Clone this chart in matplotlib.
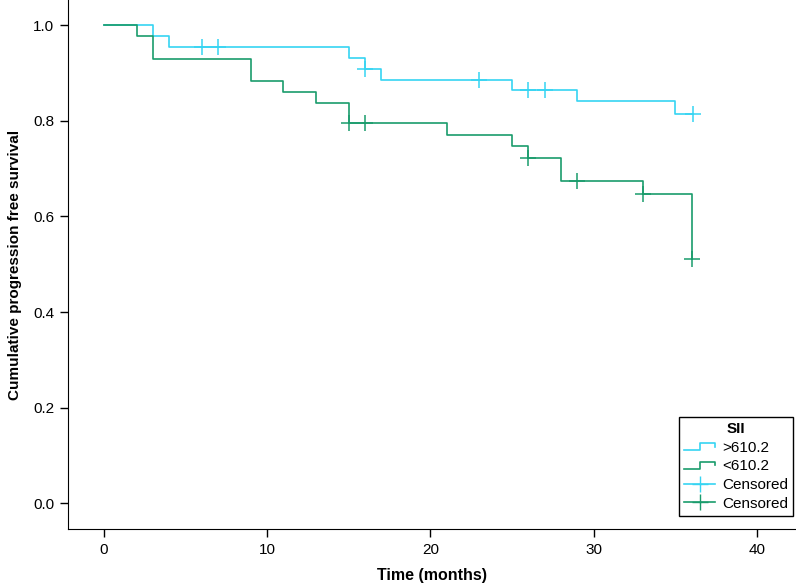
import numpy as np
import matplotlib.pyplot as plt
from matplotlib.lines import Line2D
from matplotlib.legend_handler import HandlerBase

plt.rcParams['font.family'] = ['Liberation Sans', 'DejaVu Sans']

# Kaplan-Meier steps, SII > 610.2
hi_t = [0, 3, 4, 15, 16, 17, 25, 29, 35, 36.1]
hi_s = [1.0, 0.977, 0.955, 0.932, 0.909, 0.886, 0.864, 0.841, 0.815, 0.815]
hi_cens_t = [6, 7, 16, 23, 26, 27, 36.1]
hi_cens_s = [0.955, 0.955, 0.909, 0.886, 0.864, 0.864, 0.815]

# SII < 610.2
lo_t = [0, 2, 3, 9, 11, 13, 15, 21, 25, 26, 28, 33, 36]
lo_s = [1.0, 0.977, 0.930, 0.884, 0.861, 0.838, 0.795, 0.771, 0.747, 0.723, 0.674, 0.647, 0.512]
lo_cens_t = [15, 16, 26, 29, 33, 36]
lo_cens_s = [0.795, 0.795, 0.723, 0.674, 0.647, 0.512]

c_hi = '#36d4f2'
c_lo = '#1a9c6c'


class StepHandler(HandlerBase):
    # small step icon like the SPSS legend
    def create_artists(self, legend, orig_handle, xd, yd, w, h, fontsize, trans):
        x = np.array([0, 0.5, 0.5, 1.0, 1.0]) * w - xd
        y = np.array([0.15, 0.15, 0.8, 0.8, 0.5]) * h - yd
        ln = Line2D(x, y, color=orig_handle.get_color(), lw=1.2)
        ln.set_transform(trans)
        return [ln]


fig = plt.figure(figsize=(7.96, 5.86), dpi=100)
ax = fig.add_axes([0.0854, 0.0973, 0.9146, 0.9027])

h1, = ax.step(hi_t, hi_s, where='post', color=c_hi, lw=1.2)
h2, = ax.step(lo_t, lo_s, where='post', color=c_lo, lw=1.2)
ax.plot(hi_cens_t, hi_cens_s, ls='none', marker='+', ms=11, mew=1.1, color=c_hi)
ax.plot(lo_cens_t, lo_cens_s, ls='none', marker='+', ms=11, mew=1.1, color=c_lo)

ax.set_xlim(-2.2, 42.4)
ax.set_ylim(-0.054, 1.053)
ax.set_xticks([0, 10, 20, 30, 40])
ax.set_yticks([0.0, 0.2, 0.4, 0.6, 0.8, 1.0])
ax.set_yticklabels(['0.0', '0.2', '0.4', '0.6', '0.8', '1.0'])
ax.tick_params(direction='out', length=6, width=1, labelsize=11, colors='black', pad=4)
ax.spines['top'].set_visible(False)
ax.spines['right'].set_visible(False)
ax.set_xlabel('Time (months)', fontsize=11.5, fontweight='bold', labelpad=8)
ax.set_ylabel('Cumulative progression free survival', fontsize=11, fontweight='bold', labelpad=8)

cens_hi = Line2D([], [], color=c_hi, marker='+', ms=11, lw=1.2)
cens_lo = Line2D([], [], color=c_lo, marker='+', ms=11, lw=1.2)
leg = ax.legend([h1, h2, cens_hi, cens_lo], ['>610.2', '<610.2', 'Censored', 'Censored'],
                title='SII', loc='lower left', bbox_to_anchor=(679 / 796, 70 / 586),
                bbox_transform=fig.transFigure, fontsize=11,
                title_fontproperties={'weight': 'bold', 'size': 11},
                handler_map={h1: StepHandler(), h2: StepHandler()},
                frameon=True, fancybox=False, edgecolor='black', framealpha=1,
                handlelength=2.0, handletextpad=0.45, labelspacing=0.3, borderpad=0.35,
                borderaxespad=0)
leg.get_frame().set_linewidth(1)

fig.savefig('out.png', dpi=100)
